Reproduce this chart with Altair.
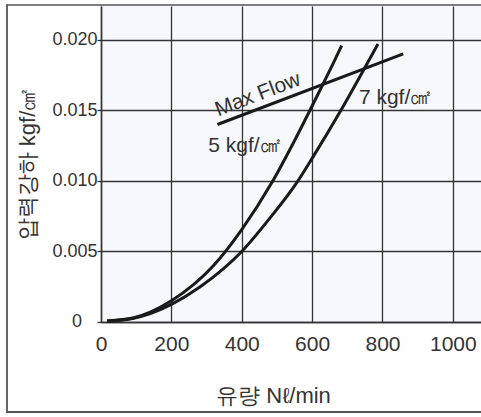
import altair as alt
import pandas as pd

# 5 kgf/㎠ curve
flow_5 = [17, 93, 140, 200, 320, 400, 486, 547, 600, 628, 661, 684]
drop_5 = [0.00007, 0.0003, 0.0007, 0.0015, 0.0040, 0.00655, 0.0099, 0.01271, 0.01531, 0.01671, 0.01839, 0.01959]
# 7 kgf/㎠ curve
flow_7 = [17, 93, 140, 200, 282, 400, 481, 557, 600, 684, 736, 787]
drop_7 = [0.00007, 0.00027, 0.0006, 0.00125, 0.0025, 0.0050, 0.0074, 0.0099, 0.0116, 0.0151, 0.0174, 0.0197]
# Max Flow line
max_flow_x = [331, 859]
max_flow_y = [0.0140, 0.0190]

# labels
label_text = ["5 kgf/㎠", "7 kgf/㎠"]
label_x = [305, 733]
label_y = [0.01208, 0.01546]
maxflow_label = ["Max Flow"]
maxflow_label_x = [446]
maxflow_label_y = [0.0161]

x_ticks = [0, 200, 400, 600, 800, 1000]
y_ticks = [0, 0.005, 0.010, 0.015, 0.020]

FONT = "Liberation Sans"
TCOL = "#333"

curves = pd.DataFrame(
    {"flow": flow_5 + flow_7,
     "drop": drop_5 + drop_7,
     "series": ["5"] * len(flow_5) + ["7"] * len(flow_7)}
)
maxflow = pd.DataFrame({"flow": max_flow_x, "drop": max_flow_y})
labels = pd.DataFrame({"flow": label_x, "drop": label_y, "text": label_text})
mf_label = pd.DataFrame({"flow": maxflow_label_x, "drop": maxflow_label_y, "text": maxflow_label})
zero_label = pd.DataFrame({"flow": [x_ticks[0]], "drop": [y_ticks[0]], "text": ["0"]})

xscale = alt.Scale(domain=[0, 1080], nice=False)
yscale = alt.Scale(domain=[0, 0.0224], nice=False)

xaxis = alt.Axis(
    values=x_ticks, title="유량 Nℓ/min", grid=True, ticks=False, tickSize=0,
    labelExpr="format(datum.value, 'd')",
    labelFont=FONT, labelFontSize=21, labelFontWeight="normal", labelColor=TCOL, labelPadding=11,
    labelFlush=False, labelOverlap=False,
    titleFont=FONT, titleFontSize=22, titleFontWeight="normal", titleColor=TCOL,
    titleX=172, titleY=80, titleAnchor="middle", titleAlign="center", titleBaseline="alphabetic",
    domainColor="#333", domainWidth=1.5, gridColor="#333", gridWidth=1.3,
)
yaxis = alt.Axis(
    values=y_ticks, title="압력강하  kgf/㎠", grid=True, tickSize=4, tickColor="#333", tickWidth=1.3,
    labelExpr="datum.value == 0 ? '' : format(datum.value, '.3f')",
    labelFont=FONT, labelFontSize=18, labelFontWeight="normal", labelColor=TCOL,
    labelPadding=0, labelFlush=False, labelOverlap=False,
    titleFont=FONT, titleFontSize=22, titleFontWeight="normal", titleColor=TCOL,
    titleAngle=270, titleX=-74, titleY=158, titleAlign="center", titleBaseline="middle",
    domainColor="#333", domainWidth=1.5, gridColor="#333", gridWidth=1.3,
)

base_x = alt.X("flow:Q", scale=xscale, axis=xaxis)
base_y = alt.Y("drop:Q", scale=yscale, axis=yaxis)
px = alt.X("flow:Q", scale=xscale)
py = alt.Y("drop:Q", scale=yscale)

curve_layer = alt.Chart(curves).mark_line(
    color="#1a1a1a", strokeWidth=3, interpolate="monotone"
).encode(x=base_x, y=base_y, detail="series:N")

maxflow_layer = alt.Chart(maxflow).mark_line(color="#1a1a1a", strokeWidth=3).encode(x=px, y=py)

label_layer = alt.Chart(labels).mark_text(
    font=FONT, fontSize=21, fontWeight="normal", color=TCOL, align="left", baseline="alphabetic"
).encode(x=px, y=py, text="text:N")

mf_layer = alt.Chart(mf_label).mark_text(
    font=FONT, fontSize=21, fontWeight="normal", color=TCOL, align="center", baseline="middle", angle=339
).encode(x=px, y=py, text="text:N")

zero_layer = alt.Chart(zero_label).mark_text(
    font=FONT, fontSize=18, fontWeight="normal", color=TCOL, align="right", baseline="middle", dx=-19
).encode(x=px, y=py, text="text:N")

one = pd.DataFrame({"a": [0]})
frame_left = alt.Chart(one).mark_rule(color="#555", strokeWidth=1.8).encode(
    x=alt.value(-94), y=alt.value(-1), y2=alt.value(406))
frame_top = alt.Chart(one).mark_rule(color="#555", strokeWidth=1.5).encode(
    x=alt.value(-95), x2=alt.value(385), y=alt.value(-1))
frame_bottom = alt.Chart(one).mark_rule(color="#555", strokeWidth=1.8).encode(
    x=alt.value(-95), x2=alt.value(385), y=alt.value(406))

chart = alt.layer(
    curve_layer, maxflow_layer, label_layer, mf_layer, zero_layer,
    frame_left, frame_top, frame_bottom
).properties(
    width=380, height=316,
    autosize=alt.AutoSizeParams(type="none"),
    padding={"left": 101, "top": 6, "right": 0, "bottom": 91},
    background="white",
).configure_view(fill="#f6f8fc", stroke=None, strokeWidth=0)

chart.save("out.html", embed_options={"renderer": "svg", "actions": False})
